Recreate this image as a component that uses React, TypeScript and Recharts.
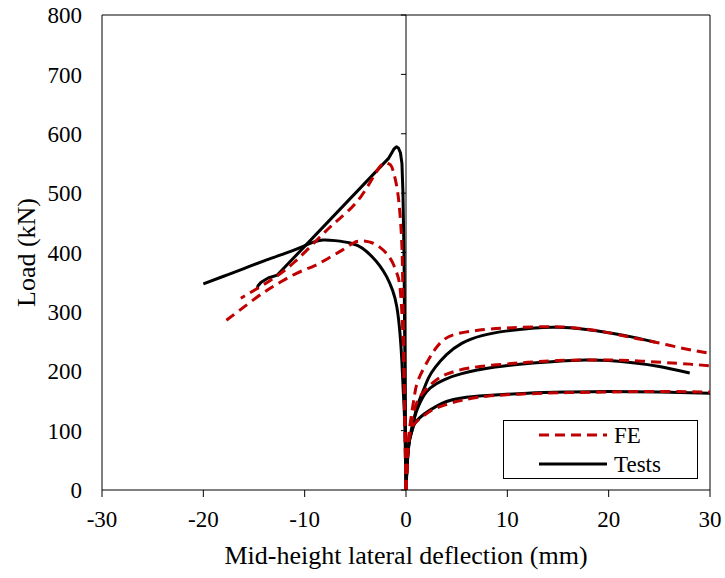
import { LineChart, Line, XAxis, YAxis, ReferenceLine, Label, Legend } from 'recharts';

// x = mid-height lateral deflection (mm), y = load (kN)
const xTicks = [-30, -20, -10, 0, 10, 20, 30];
const yTicks = [0, 100, 200, 300, 400, 500, 600, 700, 800];

// tests, buckling to the negative side
const testNeg1 = [
  { x: 0, y: 0 }, { x: -0.05, y: 100 }, { x: -0.1, y: 200 }, { x: -0.15, y: 300 },
  { x: -0.2, y: 400 }, { x: -0.3, y: 500 }, { x: -0.4, y: 550 }, { x: -0.55, y: 568 },
  { x: -0.75, y: 576 }, { x: -0.95, y: 578 }, { x: -1.2, y: 574 }, { x: -1.7, y: 559 },
  { x: -12.7, y: 362 }, { x: -13.6, y: 357 }, { x: -14.3, y: 350 }, { x: -14.6, y: 344 },
  { x: -14.7, y: 338 },
];
const testNeg2 = [
  { x: 0, y: 0 }, { x: -0.1, y: 100 }, { x: -0.25, y: 160 }, { x: -0.4, y: 214 },
  { x: -0.6, y: 265 }, { x: -0.9, y: 308 }, { x: -1.3, y: 335 }, { x: -1.9, y: 359 },
  { x: -2.6, y: 378 }, { x: -3.3, y: 392 }, { x: -4.3, y: 407 }, { x: -5.5, y: 416 },
  { x: -7, y: 420 }, { x: -8.2, y: 421 }, { x: -9.2, y: 417 }, { x: -10.2, y: 410 },
  { x: -12, y: 398 }, { x: -14, y: 386 }, { x: -16, y: 373 }, { x: -18, y: 360 },
  { x: -20, y: 347 },
];

// tests, positive side
const testPos1 = [
  { x: 0, y: 0 }, { x: 0.1, y: 40 }, { x: 0.3, y: 80 }, { x: 0.6, y: 101 },
  { x: 1.0, y: 135 }, { x: 1.6, y: 163 }, { x: 2.2, y: 188 }, { x: 2.9, y: 207 },
  { x: 4, y: 228 }, { x: 5.5, y: 247 }, { x: 7.5, y: 260 }, { x: 10, y: 268 },
  { x: 12.7, y: 273 }, { x: 15, y: 274 }, { x: 17.4, y: 271 }, { x: 20.3, y: 264 },
  { x: 22.5, y: 257 }, { x: 24.6, y: 249 },
];
const testPos2 = [
  { x: 0, y: 0 }, { x: 0.15, y: 50 }, { x: 0.4, y: 90 }, { x: 0.8, y: 120 },
  { x: 1.2, y: 140 }, { x: 2, y: 165 }, { x: 3, y: 179 }, { x: 3.8, y: 186 },
  { x: 5.5, y: 196 }, { x: 8.8, y: 207 }, { x: 12, y: 213 }, { x: 15, y: 217 },
  { x: 17.7, y: 219 }, { x: 20, y: 218 }, { x: 22.6, y: 214 }, { x: 25, y: 208 },
  { x: 28, y: 197 },
];
const testPos3 = [
  { x: 0, y: 0 }, { x: 0.1, y: 40 }, { x: 0.3, y: 80 }, { x: 0.6, y: 100 },
  { x: 0.9, y: 113 }, { x: 1.8, y: 128 }, { x: 2.9, y: 140 }, { x: 4, y: 149 },
  { x: 5.5, y: 155 }, { x: 8, y: 159 }, { x: 12, y: 163 }, { x: 16, y: 165 },
  { x: 20, y: 166 }, { x: 25, y: 165 }, { x: 30, y: 163 },
];

// FE, negative side
const feNeg1 = [
  { x: 0, y: 0 }, { x: -0.1, y: 101 }, { x: -0.2, y: 214 }, { x: -0.3, y: 325 },
  { x: -0.4, y: 409 }, { x: -0.6, y: 466 }, { x: -0.9, y: 510 }, { x: -1.4, y: 544 },
  { x: -1.8, y: 550 }, { x: -2.6, y: 544 }, { x: -4.5, y: 493 }, { x: -6.7, y: 455 },
  { x: -8.5, y: 426 }, { x: -11, y: 384 }, { x: -13.4, y: 353 }, { x: -16.3, y: 323 },
];
const feNeg2 = [
  { x: 0, y: 0 }, { x: -0.1, y: 100 }, { x: -0.2, y: 200 }, { x: -0.35, y: 280 },
  { x: -0.6, y: 342 }, { x: -0.9, y: 365 }, { x: -1.3, y: 382 }, { x: -1.9, y: 398 },
  { x: -2.6, y: 409 }, { x: -3.3, y: 416 }, { x: -4, y: 419 }, { x: -4.6, y: 419 },
  { x: -5.2, y: 416 }, { x: -6.3, y: 404 }, { x: -7.5, y: 392 }, { x: -9, y: 378 },
  { x: -10.8, y: 365 }, { x: -12.5, y: 349 }, { x: -14.1, y: 332 }, { x: -16.4, y: 303 },
  { x: -18.1, y: 281 },
];

// FE, positive side
const fePos1 = [
  { x: 0, y: 0 }, { x: 0.15, y: 60 }, { x: 0.4, y: 110 }, { x: 0.8, y: 155 },
  { x: 1.2, y: 185 }, { x: 2.2, y: 219 }, { x: 3, y: 240 }, { x: 3.8, y: 254 },
  { x: 5, y: 263 }, { x: 7.1, y: 269 }, { x: 10, y: 273 }, { x: 13.7, y: 275 },
  { x: 16, y: 274 }, { x: 19, y: 268 }, { x: 21.9, y: 258 }, { x: 24.6, y: 249 },
  { x: 27.5, y: 238 }, { x: 30, y: 230 },
];
const fePos2 = [
  { x: 0, y: 0 }, { x: 0.15, y: 55 }, { x: 0.3, y: 90 }, { x: 0.6, y: 118 },
  { x: 1.2, y: 152 }, { x: 2.6, y: 180 }, { x: 4, y: 195 }, { x: 6.1, y: 205 },
  { x: 9, y: 211 }, { x: 12, y: 215 }, { x: 15, y: 218 }, { x: 18.7, y: 219 },
  { x: 22, y: 218 }, { x: 25.3, y: 215 }, { x: 28, y: 212 }, { x: 30, y: 209 },
];
const fePos3 = [
  { x: 0, y: 0 }, { x: 0.15, y: 55 }, { x: 0.4, y: 95 }, { x: 0.9, y: 113 },
  { x: 1.6, y: 123 }, { x: 2.5, y: 134 }, { x: 3.8, y: 143 }, { x: 5.5, y: 151 },
  { x: 8, y: 158 }, { x: 12, y: 162 }, { x: 16, y: 164 }, { x: 20, y: 165 },
  { x: 25, y: 166 }, { x: 30, y: 165 },
];

const tests = [testNeg2, testPos1, testPos2, testPos3];
const feCurves = [feNeg1, feNeg2, fePos1, fePos2, fePos3];

// a single family name: the font list form fell back to sans here
const FONT = 'Liberation Serif';
const RED = '#C00000';

// tick text drawn by hand so the serif font sticks
const XTick = ({ x, y, payload }: any) => (
  <text x={x} y={y} dy="0.71em" textAnchor="middle" fontFamily={FONT} fontSize={23} fill="#000">
    {payload.value}
  </text>
);
const YTick = ({ x, y, payload }: any) => (
  <text x={x} y={y} dy="0.355em" textAnchor="end" fontFamily={FONT} fontSize={23} fill="#000">
    {payload.value}
  </text>
);

function LegendBox() {
  return (
    <div
      style={{
        width: 195,
        height: 59,
        boxSizing: 'border-box',
        border: '1.5px solid #000',
        background: '#fff',
        position: 'relative',
      }}
    >
      <svg width={195} height={59} style={{ position: 'absolute', left: -1.5, top: -1.5 }}>
        <line x1={36} x2={104} y1={15} y2={15} stroke={RED} strokeWidth={3} strokeDasharray="10 6" />
        <line x1={36} x2={104} y1={44} y2={44} stroke="#000" strokeWidth={3} />
        <text x={111} y={23} fontFamily={FONT} fontSize={23} fill="#000">FE</text>
        <text x={111} y={52} fontFamily={FONT} fontSize={23} fill="#000">Tests</text>
      </svg>
    </div>
  );
}

export default function App() {
  return (
    <div style={{ position: 'absolute', left: 0, top: 0, background: '#fff', fontFamily: FONT }}>
      <LineChart width={725} height={578} margin={{ top: 15, right: 15, left: 0, bottom: 0 }}>
        <XAxis
          type="number"
          dataKey="x"
          domain={[-30, 30]}
          ticks={xTicks}
          allowDataOverflow
          stroke="#000"
          tickSize={7}
          tickMargin={14}
          height={88}
          tick={XTick}
        >
          <Label
            value="Mid-height lateral deflection (mm)"
            position="insideBottom"
            offset={14}
            fontFamily={FONT}
            fontSize={26}
            fill="#000"
          />
        </XAxis>
        <YAxis
          type="number"
          domain={[0, 800]}
          ticks={yTicks}
          width={102}
          stroke="#000"
          tickLine={false}
          tickSize={0}
          tickMargin={20}
          tick={YTick}
        >
          <Label
            value="Load (kN)"
            angle={-90}
            position="insideLeft"
            offset={26}
            fontFamily={FONT}
            fontSize={26}
            fill="#000"
            style={{ textAnchor: 'middle' }}
          />
        </YAxis>
        <ReferenceLine y={800} stroke="#000" />
        <ReferenceLine x={30} stroke="#000" />
        <ReferenceLine x={0} stroke="#000" />
        {yTicks.map((t) => (
          <ReferenceLine key={t} segment={[{ x: -0.5, y: t }, { x: 0, y: t }]} stroke="#000" />
        ))}
        <Line
          data={testNeg1}
          dataKey="y"
          type="linear"
          stroke="#000"
          strokeWidth={3}
          strokeLinejoin="round"
          dot={false}
          isAnimationActive={false}
        />
        {tests.map((d, i) => (
          <Line
            key={'t' + i}
            data={d}
            dataKey="y"
            type="natural"
            stroke="#000"
            strokeWidth={3}
            dot={false}
            isAnimationActive={false}
          />
        ))}
        {feCurves.map((d, i) => (
          <Line
            key={'f' + i}
            data={d}
            dataKey="y"
            type="natural"
            stroke={RED}
            strokeWidth={3}
            strokeDasharray="10 6"
            dot={false}
            isAnimationActive={false}
          />
        ))}
        <Legend
          layout="vertical"
          align="center"
          verticalAlign="middle"
          wrapperStyle={{ left: 503, top: 420, width: 195, height: 59 }}
          content={() => <LegendBox />}
        />
      </LineChart>
    </div>
  );
}
